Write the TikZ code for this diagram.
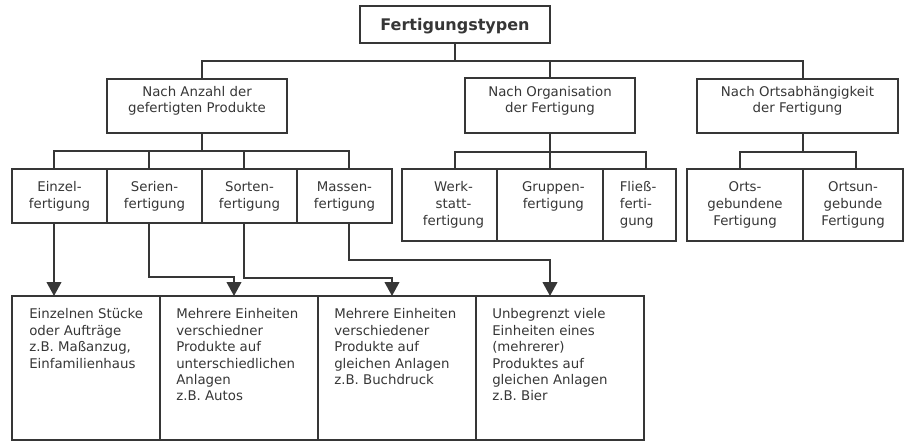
\documentclass[tikz,border=0pt]{standalone}
\usepackage{fontspec}
\setmainfont{DejaVu Sans}
\usetikzlibrary{fit,arrows.meta}
\definecolor{ink}{HTML}{363636}
\begin{document}
\begin{tikzpicture}[x=0.75pt,y=-0.75pt,
  box/.style={draw=ink, line width=1.5pt, inner sep=0pt, outer sep=0pt, text=ink, align=center, font=\fontsize{10}{12}\selectfont},
  rowtext/.style={text=ink, align=center, inner sep=0pt, anchor=north, font=\fontsize{10}{12.5}\selectfont},
  desc/.style={text=ink, align=left, inner sep=0pt, anchor=north west, font=\fontsize{10}{12.3}\selectfont},
  conn/.style={draw=ink, line width=1.5pt},
  arr/.style={conn, -{Triangle[width=11pt,length=10.5pt]}}]
\useasboundingbox (0,0) rectangle (912,441);

% level 0
\node[box, fit={(360,6) (550,43)}] (T) {};
\node[text=ink, font=\bfseries\fontsize{12}{14}\selectfont, anchor=base, inner sep=0pt] (tT) at (455,30.5) {Fertigungstypen};

% level 1
\node[box, fit={(107,79) (287,133)}] (A) {Nach Anzahl der\\gefertigten Produkte};
\node[box, fit={(465,78) (635,133)}] (O) {Nach Organisation\\der Fertigung};
\node[box, fit={(697,79) (898,133)}] (R) {Nach Ortsabhängigkeit\\der Fertigung};

% level 2
\node[box, fit={(12,169) (107,223)}] (E) {};
\node[box, fit={(107,169) (202,223)}] (S) {};
\node[box, fit={(202,169) (297,223)}] (So) {};
\node[box, fit={(297,169) (392,223)}] (M) {};
\node[box, fit={(402,169) (497,241)}] (W) {};
\node[box, fit={(497,169) (603,241)}] (G) {};
\node[box, fit={(603,169) (676,241)}] (F) {};
\node[box, fit={(687,169) (803,241)}] (Og) {};
\node[box, fit={(803,169) (903,241)}] (Ou) {};

\node[rowtext] (tE) at ([yshift=-9.4pt]E.north) {Einzel-\\fertigung};
\node[rowtext] (tS) at ([yshift=-9.4pt]S.north) {Serien-\\fertigung};
\node[rowtext] (tSo) at ([yshift=-9.4pt]So.north) {Sorten-\\fertigung};
\node[rowtext] (tM) at ([yshift=-9.4pt]M.north) {Massen-\\fertigung};
\node[rowtext] (tW) at ([xshift=3pt,yshift=-9.4pt]W.north) {Werk-\\statt-\\fertigung};
\node[rowtext] (tG) at ([xshift=2.5pt,yshift=-9.4pt]G.north) {Gruppen-\\fertigung};
\node[rowtext, align=left] (tF) at ([xshift=-1pt,yshift=-9.4pt]F.north) {Fließ-\\ferti-\\gung};
\node[rowtext] (tOg) at ([yshift=-9.4pt]Og.north) {Orts-\\gebundene\\Fertigung};
\node[rowtext] (tOu) at ([yshift=-9.4pt]Ou.north) {Ortsun-\\gebunde\\Fertigung};

% level 3
\node[box, fit={(12,296) (160,440)}] (B1) {};
\node[box, fit={(160,296) (318,440)}] (B2) {};
\node[box, fit={(318,296) (476,440)}] (B3) {};
\node[box, fit={(476,296) (644,440)}] (B4) {};

\node[desc] (d1) at ([shift={(17,12.5)}]B1.north west) {Einzelnen Stücke\\oder Aufträge\\z.B. Maßanzug,\\Einfamilienhaus};
\node[desc] (d2) at ([shift={(16,12.5)}]B2.north west) {Mehrere Einheiten\\verschiedner\\Produkte auf\\unterschiedlichen\\Anlagen\\z.B. Autos};
\node[desc] (d3) at ([shift={(16,12.5)}]B3.north west) {Mehrere Einheiten\\verschiedener\\Produkte auf\\gleichen Anlagen\\z.B. Buchdruck};
\node[desc] (d4) at ([shift={(16,12.5)}]B4.north west) {Unbegrenzt viele\\Einheiten eines\\(mehrerer)\\Produktes auf\\gleichen Anlagen\\z.B. Bier};

% connectors level 0 -> 1
\coordinate (busA) at (202,61);
\coordinate (busR) at (803,61);
\draw[conn] (T.south) -- (T.south |- busA);
\draw[conn] (A.north -| busA) -- (busA) -- (busR) -- (R.north -| busR);
\draw[conn] (O.north) -- (O.north |- busA);

% level 1 -> 2 (A)
\coordinate (sE) at (54,151);
\coordinate (sS) at (149,151);
\coordinate (sO) at (244,151);
\coordinate (sM) at (349,151);
\draw[conn] (A.south -| busA) -- (busA |- sE);
\draw[conn] (E.north -| sE) -- (sE) -- (sM) -- (M.north -| sM);
\draw[conn] (S.north -| sS) -- (sS);
\draw[conn] (So.north -| sO) -- (sO);

% level 1 -> 2 (O)
\coordinate (cW) at (455,152);
\coordinate (cF) at (646,152);
\draw[conn] (O.south) -- (O.south |- cW);
\draw[conn] (W.north -| cW) -- (cW) -- (cF) -- (F.north -| cF);
\draw[conn] (G.north) -- (G.north |- cW);

% level 1 -> 2 (R)
\coordinate (cOg) at (740,152);
\coordinate (cOu) at (856,152);
\draw[conn] (R.south -| busR) -- (busR |- cOg);
\draw[conn] (Og.north -| cOg) -- (cOg) -- (cOu) -- (Ou.north -| cOu);

% level 2 -> 3 arrows
\coordinate (kS) at (234,277);
\coordinate (kO) at (392,278);
\coordinate (kM) at (550,260);
\draw[arr] (E.south -| sE) -- (B1.north -| sE);
\draw[arr] (S.south -| sS) -- (sS |- kS) -| (B2.north -| kS);
\draw[arr] (So.south -| sO) -- (sO |- kO) -| (B3.north -| kO);
\draw[arr] (M.south -| sM) -- (sM |- kM) -| (B4.north -| kM);
\end{tikzpicture}
\end{document}
